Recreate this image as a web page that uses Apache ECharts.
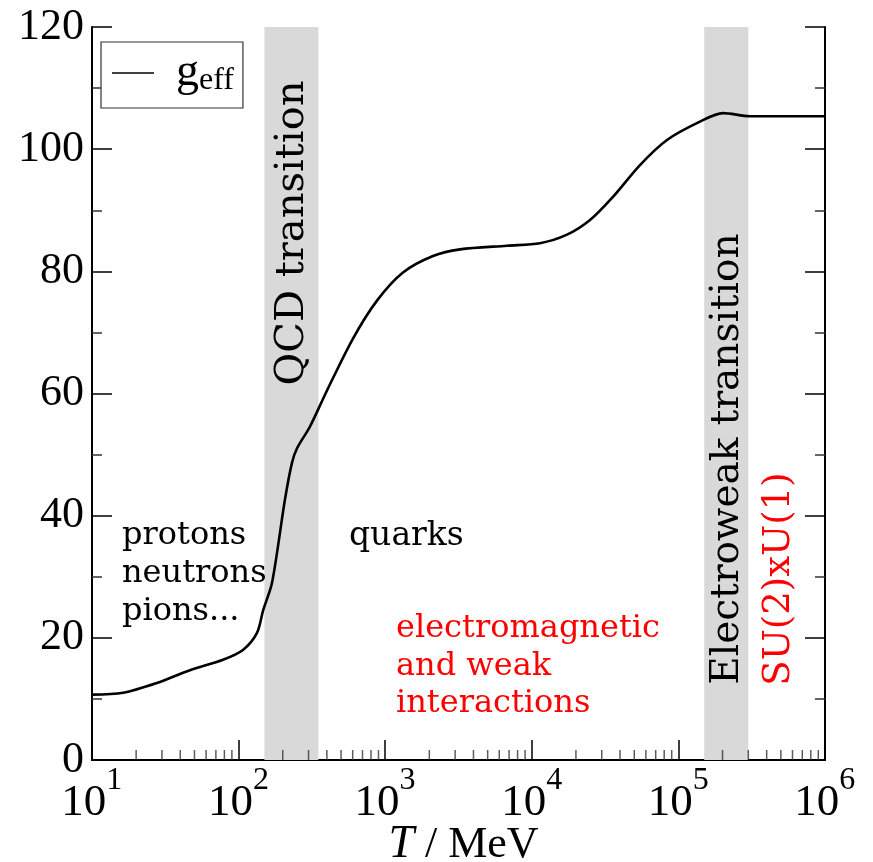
<!DOCTYPE html>
<html>
<head>
<meta charset="utf-8">
<script src="https://cdn.jsdelivr.net/npm/echarts@6/dist/echarts.min.js"></script>
<style>
html,body{margin:0;padding:0;background:#fff;}
#chart{width:873px;height:862px;}
</style>
</head>
<body>
<div id="chart"></div>
<script>
// Temperature T (MeV) and effective degrees of freedom g_eff
const temperatures = [10, 16.3, 27.7, 46.6, 78.3, 107, 133.5, 147, 169, 207, 231, 250, 307, 401, 603, 879, 1322, 2118, 3236, 6775, 11370, 17380, 24950, 35800, 54700, 83600, 140300, 201400, 307700, 1000000];
const geffValues   = [10.7, 11.0, 12.6, 14.7, 16.4, 18.0, 20.8, 24.5, 29.0, 42.6, 48.6, 51.0, 54.6, 60.5, 69.0, 75.2, 79.8, 82.5, 83.6, 84.2, 84.6, 86.0, 88.4, 92.2, 97.4, 101.5, 104.5, 105.9, 105.4, 105.4];

// Transition bands (MeV)
const qcdBand = [150, 350];
const ewBand = [150000, 300000];

// Axis ticks
const yTicks = [0, 20, 40, 60, 80, 100, 120];
const decades = [10, 100, 1000, 10000, 100000];
const minorMultipliers = [2, 3, 4, 5, 6, 7, 8, 9];
const minorTickValues = [];
decades.forEach(d => minorMultipliers.forEach(m => minorTickValues.push([d * m, 0])));

const serif = '"Liberation Serif", "Times New Roman", serif';
const dserif = '"DejaVu Serif", serif';

const chart = echarts.init(document.getElementById('chart'), null, {renderer: 'canvas'});

const commonX = {
  type: 'log', logBase: 10, min: 10, max: 1000000,
  splitLine: {show: false}
};

chart.setOption({
  animation: false,
  backgroundColor: '#fff',
  grid: {left: 92, right: 48, top: 27, bottom: 102, containLabel: false, outerBoundsMode: 'none'},
  legend: {
    show: true,
    left: 101, top: 42,
    orient: 'vertical',
    data: ['geff'],
    backgroundColor: '#fff',
    borderColor: '#333', borderWidth: 1.2, borderRadius: 0,
    padding: [8, 9, 11, 11],
    icon: 'rect', itemWidth: 42, itemHeight: 1.4,
    formatter: () => '{g|g}{e|eff}',
    textStyle: {
      padding: [0, 0, 0, 17],
      rich: {
        g: {fontFamily: serif, fontSize: 46, color: '#000', lineHeight: 48},
        e: {fontFamily: serif, fontSize: 32, color: '#000', verticalAlign: 'bottom', lineHeight: 34}
      }
    }
  },
  xAxis: [
    Object.assign({}, commonX, {
      position: 'bottom',
      axisLine: {show: true, lineStyle: {color: '#000', width: 2}},
      axisTick: {show: true, inside: true, length: 20, lineStyle: {color: '#000', width: 1.5}},
      axisLabel: {
        margin: 5,
        formatter: v => '{b|10}{s|' + Math.round(Math.log10(v)) + '}{h| }',
        rich: {
          b: {fontFamily: serif, fontSize: 45, color: '#000', lineHeight: 48, verticalAlign: 'bottom'},
          s: {fontFamily: serif, fontSize: 32, color: '#000', verticalAlign: 'top', lineHeight: 30},
          h: {fontSize: 1, lineHeight: 61}
        }
      },
      name: '{i|T}{n| / MeV}',
      nameLocation: 'middle',
      nameGap: 63,
      nameMoveOverlap: false,
      nameTextStyle: {
        verticalAlign: 'top',
        padding: [0, 0, 0, 10],
        rich: {
          i: {fontFamily: serif, fontSize: 46, fontStyle: 'italic', color: '#000', lineHeight: 44},
          n: {fontFamily: serif, fontSize: 44, color: '#000', lineHeight: 44}
        }
      }
    }),
    Object.assign({}, commonX, {
      position: 'top',
      axisLine: {show: true, lineStyle: {color: '#000', width: 2}},
      axisTick: {show: false},
      axisLabel: {show: false}
    })
  ],
  yAxis: [
    {
      type: 'value', min: 0, max: 120, interval: 20, position: 'left',
      splitLine: {show: false},
      axisLine: {show: true, lineStyle: {color: '#000', width: 2}},
      axisTick: {show: true, inside: true, length: 20, lineStyle: {color: '#000', width: 1.5}},
      minorTick: {show: true, splitNumber: 2, length: 10, lineStyle: {color: '#333', width: 1.5}},
      axisLabel: {margin: 8, fontFamily: serif, fontSize: 44, color: '#000',
        formatter: v => yTicks.indexOf(v) >= 0 ? String(v) : ''}
    },
    {
      type: 'value', min: 0, max: 120, interval: 20, position: 'right',
      splitLine: {show: false},
      axisLine: {show: true, lineStyle: {color: '#000', width: 2}},
      axisTick: {show: true, inside: true, length: 20, lineStyle: {color: '#000', width: 1.5}},
      minorTick: {show: true, splitNumber: 2, length: 10, lineStyle: {color: '#333', width: 1.5}},
      axisLabel: {show: false}
    }
  ],
  series: [
    {
      name: 'minorTicks', type: 'scatter', xAxisIndex: 0, yAxisIndex: 0,
      data: minorTickValues, symbol: 'rect', symbolSize: [1.5, 10], symbolOffset: [0, -5],
      itemStyle: {color: '#333'}, silent: true, z: 1, clip: false
    },
    {
      name: 'bands', type: 'line', xAxisIndex: 0, yAxisIndex: 0, data: [], z: 2, silent: true,
      markArea: {
        silent: true,
        itemStyle: {color: '#d9d9d9'},
        data: [
          [{xAxis: qcdBand[0], yAxis: 0}, {xAxis: qcdBand[1], yAxis: 120}],
          [{xAxis: ewBand[0], yAxis: 0}, {xAxis: ewBand[1], yAxis: 120}]
        ]
      }
    },
    {
      name: 'geff', type: 'line', xAxisIndex: 0, yAxisIndex: 0, z: 3,
      data: temperatures.map((t, i) => [t, geffValues[i]]),
      showSymbol: false, symbol: 'none',
      smooth: 0.3,
      lineStyle: {color: '#000', width: 2.6},
      itemStyle: {color: '#000'}
    }
  ],
  graphic: [
    {type: 'text', x: 293, y: 233, rotation: Math.PI / 2, z: 10,
      style: {text: 'QCD transition', font: '40px ' + dserif, fill: '#000', textAlign: 'center', textVerticalAlign: 'middle', align: 'center', verticalAlign: 'middle'}},
    {type: 'text', x: 728, y: 459, rotation: Math.PI / 2, z: 10,
      style: {text: 'Electroweak transition', font: '39px ' + dserif, fill: '#000', textAlign: 'center', textVerticalAlign: 'middle', align: 'center', verticalAlign: 'middle'}},
    {type: 'text', x: 779, y: 579, rotation: Math.PI / 2, z: 10,
      style: {text: 'SU(2)xU(1)', font: '37px ' + dserif, fill: '#ff0000', textAlign: 'center', textVerticalAlign: 'middle', align: 'center', verticalAlign: 'middle'}},
    {type: 'text', x: 122, y: 517, z: 10,
      style: {text: 'protons\nneutrons\npions...', font: '32px ' + dserif, fill: '#000', lineHeight: 38, textAlign: 'left', textVerticalAlign: 'top', align: 'left', verticalAlign: 'top'}},
    {type: 'text', x: 349, y: 517, z: 10,
      style: {text: 'quarks', font: '33px ' + dserif, fill: '#000', lineHeight: 38, textAlign: 'left', textVerticalAlign: 'top', align: 'left', verticalAlign: 'top'}},
    {type: 'text', x: 396, y: 610, z: 10,
      style: {text: 'electromagnetic\nand weak\ninteractions', font: '32px ' + dserif, fill: '#ff0000', lineHeight: 37.5, textAlign: 'left', textVerticalAlign: 'top', align: 'left', verticalAlign: 'top'}}
  ]
});
</script>
</body>
</html>
